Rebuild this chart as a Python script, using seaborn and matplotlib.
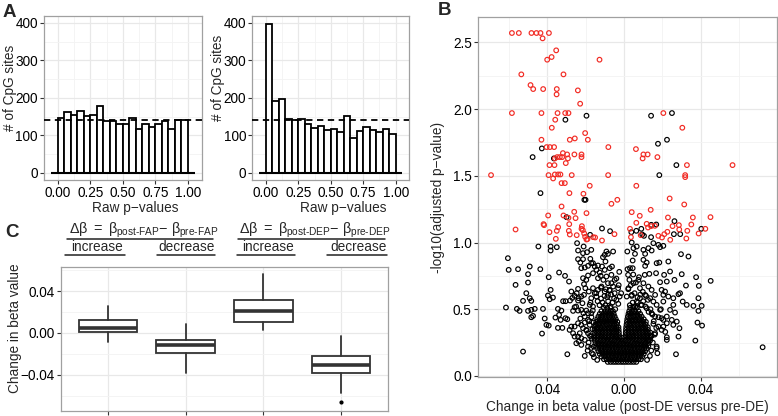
import matplotlib
matplotlib.use('Agg')
import matplotlib.pyplot as plt
import matplotlib.lines as mlines
from matplotlib.ticker import MultipleLocator
import seaborn as sns
import numpy as np
import pandas as pd

# ---------------------------------------------------------------------------
# Data
# ---------------------------------------------------------------------------

# A: histograms of raw p-values (20 bins of width 0.05)
bin_centers = [0.025, 0.075, 0.125, 0.175, 0.225, 0.275, 0.325, 0.375, 0.425, 0.475,
               0.525, 0.575, 0.625, 0.675, 0.725, 0.775, 0.825, 0.875, 0.925, 0.975]
counts_fap = [146, 162, 153, 164, 152, 153, 178, 138, 138, 131,
              131, 147, 118, 131, 121, 129, 138, 118, 141, 141]
counts_dep = [397, 192, 196, 144, 140, 144, 130, 120, 126, 114,
              117, 109, 151, 92, 112, 122, 114, 108, 117, 104]
expected_per_bin = 142

# C: box summaries of change in beta value
box_groups = ['FAP increase', 'FAP decrease', 'DEP increase', 'DEP decrease']
box_whislo = [-0.0086, -0.0378, 0.0032, -0.0576]
box_q1 = [0.0010, -0.0195, 0.0109, -0.0378]
box_med = [0.0051, -0.0112, 0.0208, -0.0310]
box_q3 = [0.0128, -0.0067, 0.0317, -0.0221]
box_whishi = [0.0259, 0.0083, 0.0563, -0.0032]
box_fliers = [[], [], [], [-0.0659]]

# B: volcano plot (change in beta, -log10 adjusted p)
sig_points = [
    (-0.0585, 2.57), (-0.0549, 2.57), (-0.0483, 2.57), (-0.0457, 2.57), (-0.0436, 2.57),
    (-0.0392, 2.57), (-0.0425, 2.53), (-0.0401, 2.37), (-0.0378, 2.39), (-0.0354, 2.44),
    (-0.0128, 2.37), (-0.0536, 2.26), (-0.0316, 2.26), (-0.0488, 2.18), (-0.0474, 2.15),
    (-0.0422, 2.15), (-0.0351, 2.15), (-0.0352, 2.11), (-0.0241, 2.14), (-0.0229, 2.04),
    (-0.0585, 1.97), (-0.0431, 1.97), (-0.0347, 1.97), (-0.0307, 1.97), (-0.0290, 1.97),
    (0.0205, 1.97), (-0.0359, 1.92), (-0.0377, 1.86), (0.0304, 1.86), (-0.0203, 1.82),
    (-0.0431, 1.77), (-0.0283, 1.77), (-0.0257, 1.78), (-0.0189, 1.77), (-0.0404, 1.715),
    (-0.0387, 1.715), (-0.0365, 1.715), (-0.0082, 1.715), (0.0062, 1.70), (-0.0319, 1.67),
    (-0.0297, 1.66), (-0.0259, 1.66), (-0.0222, 1.66), (-0.0222, 1.64), (0.0101, 1.66),
    (0.0123, 1.66), (0.0174, 1.64), (0.0097, 1.63), (-0.0361, 1.63), (-0.0349, 1.64),
    (-0.0335, 1.64), (-0.0323, 1.64), (-0.0293, 1.63), (-0.0304, 1.595), (-0.0389, 1.58),
    (-0.0363, 1.58), (0.0328, 1.58), (0.0566, 1.58), (-0.0694, 1.505), (-0.0394, 1.505),
    (-0.0361, 1.51), (-0.0344, 1.51), (-0.0332, 1.51), (-0.0273, 1.505), (-0.0083, 1.505),
    (0.0319, 1.505), (0.0319, 1.49), (-0.0370, 1.48), (-0.0326, 1.445), (-0.0309, 1.445),
    (-0.0179, 1.425), (0.0064, 1.425), (-0.0285, 1.37), (-0.0212, 1.365), (0.0238, 1.33),
    (-0.0035, 1.32), (-0.0066, 1.29), (0.0314, 1.285), (-0.0326, 1.27), (0.0139, 1.245),
    (-0.0566, 1.0975), (-0.0420, 1.1375), (-0.0417, 1.13), (-0.0396, 1.2025), (-0.0389, 1.0775),
    (-0.0344, 1.115), (-0.0351, 1.0875), (-0.0356, 1.0275), (-0.0316, 1.2025), (-0.0290, 1.185),
    (-0.0286, 1.1375), (-0.0288, 1.0875), (-0.0283, 1.06), (-0.0260, 1.23), (-0.0253, 1.1825),
    (-0.0247, 1.055), (-0.0222, 1.1025), (-0.0220, 1.1225), (-0.0215, 1.0925), (-0.0208, 1.0675),
    (-0.0203, 1.0425), (-0.0196, 1.0225), (-0.0191, 1.025), (-0.0161, 1.04), (-0.0151, 1.0375),
    (-0.0196, 1.22), (-0.0115, 1.015), (-0.0050, 1.0625), (0.0036, 1.04), (0.0040, 1.2275),
    (0.0064, 1.1475), (0.0031, 1.1025), (0.0082, 1.20), (0.0118, 1.14), (0.0141, 1.1225),
    (0.0125, 1.1125), (0.0161, 1.125), (0.0179, 1.05), (0.0198, 1.0375), (0.0210, 1.0625),
    (0.0229, 1.1875), (0.0226, 1.08), (0.0241, 1.02), (0.0253, 1.1225), (0.0286, 1.13),
    (0.0288, 1.0975), (0.0325, 1.03), (0.0330, 1.0875), (0.0351, 1.135), (0.0359, 1.1875),
    (0.0389, 1.0675), (0.0424, 1.1025), (0.0451, 1.19), (0.0087, 1.055),
]

ns_sparse_points = [
    # upper, non-significant
    (-0.0477, 1.64), (-0.0429, 1.705), (-0.0366, 1.63), (-0.0306, 1.92), (-0.0196, 1.95),
    (0.0141, 1.95), (0.0250, 1.97), (0.0177, 1.74), (0.0224, 1.77), (0.0273, 1.58),
    (0.0184, 1.505), (-0.0436, 1.37), (-0.0207, 1.32), (-0.0201, 1.32),
    (-0.0300, 1.19), (-0.0177, 1.0575), (-0.0115, 1.105), (-0.0073, 1.085), (0.0038, 1.0775),
    (0.0064, 1.0875), (0.0090, 1.1025), (0.0095, 1.06), (0.0142, 1.1325), (0.0168, 1.135),
    (0.0260, 1.0625), (0.0293, 1.0625), (0.0403, 1.1025), (0.0104, 1.05), (0.0141, 1.04),
    (0.0263, 1.16),
    # left side
    (-0.0447, 0.97), (-0.0383, 0.97), (-0.0383, 0.94), (-0.0351, 0.965), (-0.0245, 0.995),
    (-0.0211, 0.97), (-0.0240, 0.94), (-0.0214, 0.92), (-0.0193, 0.9275), (-0.0171, 0.945),
    (-0.0606, 0.8825), (-0.0602, 0.795), (-0.0553, 0.80), (-0.0492, 0.82), (-0.0501, 0.7625),
    (-0.0566, 0.6825), (-0.0501, 0.70), (-0.0437, 0.80), (-0.0393, 0.74), (-0.0339, 0.775),
    (-0.0308, 0.75), (-0.0287, 0.7075), (-0.0616, 0.5125), (-0.0559, 0.5025), (-0.0545, 0.4875),
    (-0.0527, 0.5625), (-0.0510, 0.62), (-0.0492, 0.5825), (-0.0484, 0.5625), (-0.0501, 0.4875),
    (-0.0484, 0.495), (-0.0466, 0.5025), (-0.0484, 0.44), (-0.0475, 0.45), (-0.0423, 0.5025),
    (-0.0428, 0.3175), (-0.0414, 0.43), (-0.0405, 0.3825), (-0.0393, 0.3775), (-0.0397, 0.6025),
    (-0.0383, 0.645), (-0.0388, 0.575), (-0.0371, 0.5875), (-0.0345, 0.5025), (-0.0339, 0.4575),
    (-0.0327, 0.49), (-0.0318, 0.56), (-0.0305, 0.56), (-0.0358, 0.4375), (-0.0331, 0.42),
    (-0.0306, 0.4325), (-0.0296, 0.425), (-0.0345, 0.36), (-0.0322, 0.36), (-0.0275, 0.6325),
    (-0.0282, 0.565), (-0.0270, 0.585), (-0.0258, 0.60), (-0.0247, 0.62), (-0.0240, 0.6525),
    (-0.0237, 0.5825), (-0.0223, 0.595), (-0.0209, 0.6075), (-0.0266, 0.4875), (-0.0258, 0.515),
    (-0.0240, 0.49), (-0.0223, 0.495), (-0.0240, 0.565), (-0.0217, 0.545), (-0.0209, 0.6875),
    (-0.0202, 0.6575), (-0.0184, 0.6325), (-0.0162, 0.6575), (-0.0197, 0.72), (-0.0214, 0.7325),
    (-0.0188, 0.7525), (-0.0162, 0.77), (-0.0144, 0.795), (-0.0127, 0.775), (-0.0136, 0.7325),
    (-0.0122, 0.75), (-0.0101, 0.795), (-0.0092, 0.745), (-0.0108, 0.72), (-0.0084, 0.695),
    (-0.0066, 0.695), (-0.0057, 0.67), (-0.0049, 0.72), (-0.0066, 0.7575), (-0.0075, 0.8075),
    (-0.0063, 0.82), (-0.0097, 0.8575), (-0.0110, 0.89), (-0.0101, 0.9075), (-0.0084, 0.915),
    (-0.0057, 0.9325), (-0.0092, 0.9325), (-0.0240, 0.875), (-0.0228, 0.85), (-0.0214, 0.875),
    (-0.0176, 0.8775), (-0.0171, 0.845), (-0.0188, 0.825), (-0.0205, 0.8125), (-0.0223, 0.8075),
    (-0.0162, 0.845), (-0.0153, 0.82), (-0.0136, 0.8275), (-0.0115, 0.82), (-0.0296, 0.1625),
    (-0.0205, 0.15), (-0.0162, 0.1625), (-0.0527, 0.1825), (-0.0284, 0.345), (-0.0275, 0.37),
    (-0.0266, 0.32), (-0.0258, 0.295), (-0.0240, 0.295), (-0.0231, 0.32), (-0.0223, 0.2825),
    (-0.0205, 0.27), (-0.0258, 0.37), (-0.0240, 0.395), (-0.0223, 0.3825), (-0.0214, 0.3575),
    (-0.0197, 0.345), (-0.0179, 0.3825), (-0.0188, 0.42), (-0.0171, 0.47), (-0.0205, 0.445),
    (-0.0188, 0.47), (-0.0162, 0.52), (-0.0179, 0.5325), (-0.0197, 0.49), (-0.0144, 0.595),
    (-0.0171, 0.5825), (-0.0153, 0.62), (-0.0136, 0.645), (-0.0118, 0.67), (-0.0101, 0.6325),
    (-0.0084, 0.6075), (-0.0075, 0.645), (-0.0049, 0.62), (-0.0031, 0.6575), (-0.0023, 0.595),
    (-0.0040, 0.57), (-0.0188, 0.32), (-0.0171, 0.295), (-0.0249, 0.245), (-0.0223, 0.2325),
    (-0.0188, 0.22),
    # right side
    (0.0040, 1.00), (0.0017, 0.9325), (0.0049, 0.9575), (0.0066, 0.97), (0.0057, 0.915),
    (0.0101, 0.945), (0.0110, 0.915), (0.0127, 0.9575), (0.0144, 0.94), (0.0153, 0.995),
    (0.0179, 0.9825), (0.0188, 0.965), (0.0205, 0.975), (0.0297, 0.9125), (0.0336, 0.895),
    (0.0101, 0.87), (0.0118, 0.85), (0.0045, 0.865), (0.0031, 0.8075), (0.0045, 0.8075),
    (0.0110, 0.825), (0.0170, 0.845), (0.0184, 0.85), (0.0231, 0.8575), (0.0240, 0.7825),
    (0.0263, 0.72), (0.0301, 0.7625), (0.0323, 0.6775), (0.0376, 0.74), (0.0390, 0.675),
    (0.0452, 0.7125), (0.0209, 0.7575), (0.0188, 0.7025), (0.0223, 0.7075), (0.0132, 0.765),
    (0.0108, 0.7575), (0.0075, 0.72), (0.0049, 0.695), (0.0023, 0.6575), (0.0167, 0.77),
    (0.0196, 0.645), (0.0214, 0.6325), (0.0205, 0.6075), (0.0231, 0.595), (0.0257, 0.5825),
    (0.0284, 0.6125), (0.0292, 0.62), (0.0306, 0.5575), (0.0327, 0.5325), (0.0388, 0.5825),
    (0.0362, 0.525), (0.0405, 0.525), (0.0388, 0.4875), (0.0257, 0.5325), (0.0240, 0.495),
    (0.0266, 0.475), (0.0223, 0.445), (0.0249, 0.42), (0.0275, 0.4075), (0.0289, 0.3575),
    (0.0284, 0.295), (0.0223, 0.29), (0.0223, 0.27), (0.0383, 0.40), (0.0407, 0.3775),
    (0.0372, 0.265), (0.0271, 0.1625), (0.0170, 0.2075), (0.0174, 0.17), (0.0723, 0.215),
    (0.0153, 0.39), (0.0179, 0.37), (0.0196, 0.345), (0.0162, 0.32), (0.0144, 0.30),
    (0.0127, 0.27), (0.0188, 0.495), (0.0170, 0.5325), (0.0153, 0.5575), (0.0136, 0.5825),
    (0.0205, 0.5575), (0.0162, 0.6075), (0.0144, 0.645), (0.0127, 0.67), (0.0101, 0.695),
    (0.0083, 0.6575), (0.0110, 0.6075), (0.0083, 0.5825), (0.0066, 0.5575), (0.0092, 0.5325),
    (0.0118, 0.5075), (0.0144, 0.47), (0.0162, 0.445), (0.0196, 0.4325), (0.0223, 0.395),
    (0.0257, 0.3825), (0.0205, 0.37), (0.0021, 0.7575), (0.0028, 0.72), (0.0014, 0.595),
    (0.0040, 0.6075), (0.0049, 0.52), (0.0031, 0.47),
    # fringe around the dense core
    (-0.0185, 0.25), (-0.0172, 0.21), (-0.0190, 0.19), (-0.0168, 0.17), (-0.0178, 0.30),
    (-0.0165, 0.35), (-0.0182, 0.41), (-0.0170, 0.44), (-0.0163, 0.49), (-0.0175, 0.55),
    (-0.0160, 0.40), (-0.0168, 0.28), (-0.0158, 0.22), (-0.0196, 0.34), (-0.0205, 0.40),
    (-0.0212, 0.47), (-0.0228, 0.43), (-0.0236, 0.26), (-0.0250, 0.52), (-0.0157, 0.14),
    (-0.0140, 0.12), (-0.0128, 0.53), (-0.0112, 0.55), (-0.0098, 0.53), (-0.0083, 0.56),
    (-0.0070, 0.52), (-0.0060, 0.55), (-0.0046, 0.50), (-0.0120, 0.58), (-0.0102, 0.60),
    (-0.0088, 0.59), (-0.0068, 0.61), (-0.0052, 0.58), (-0.0138, 0.56), (-0.0145, 0.62),
    (-0.0120, 0.66), (-0.0095, 0.65), (-0.0075, 0.64), (-0.0030, 0.54), (0.0030, 0.53),
    (0.0045, 0.55), (0.0058, 0.52), (0.0072, 0.55), (0.0088, 0.53), (0.0100, 0.56),
    (0.0112, 0.52), (0.0040, 0.60), (0.0055, 0.62), (0.0070, 0.59), (0.0085, 0.61),
    (0.0098, 0.63), (0.0115, 0.60), (0.0125, 0.57), (0.0022, 0.65), (0.0035, 0.68),
    (0.0062, 0.70), (0.0078, 0.74), (0.0048, 0.76), (0.0018, 0.80), (-0.0028, 0.68),
    (-0.0040, 0.73), (-0.0015, 0.62), (-0.0025, 0.78), (0.0150, 0.25), (0.0142, 0.19),
    (0.0160, 0.31), (0.0155, 0.41), (0.0148, 0.46), (0.0170, 0.22), (0.0135, 0.15),
    (0.0120, 0.12), (0.0168, 0.36), (0.0180, 0.44), (0.0192, 0.50), (0.0205, 0.42),
    (0.0215, 0.33), (0.0138, 0.50), (0.0128, 0.48),
]

# dense core of the volcano: -log10 p level -> change in beta values
ns_core_rows = {
    0.105: [-0.0085, -0.0070, -0.0056, -0.0043, -0.0030, -0.0016, -0.0004, 0.0009, 0.0022,
            0.0036, 0.0050, 0.0064],
    0.125: [-0.0105, -0.0091, -0.0077, -0.0062, -0.0049, -0.0036, -0.0022, -0.0008, 0.0006,
            0.0019, 0.0033, 0.0047, 0.0061, 0.0075, 0.0088],
    0.145: [-0.0118, -0.0103, -0.0088, -0.0074, -0.0060, -0.0045, -0.0031, -0.0017, -0.0003,
            0.0011, 0.0025, 0.0040, 0.0054, 0.0068, 0.0082, 0.0095],
    0.165: [-0.0127, -0.0112, -0.0097, -0.0083, -0.0068, -0.0054, -0.0040, -0.0026, -0.0012,
            0.0003, 0.0017, 0.0031, 0.0046, 0.0060, 0.0074, 0.0089, 0.0103],
    0.185: [-0.0134, -0.0119, -0.0104, -0.0090, -0.0075, -0.0061, -0.0047, -0.0033, -0.0019,
            -0.0005, 0.0010, 0.0024, 0.0038, 0.0053, 0.0067, 0.0082, 0.0096, 0.0110],
    0.205: [-0.0140, -0.0125, -0.0111, -0.0096, -0.0082, -0.0067, -0.0053, -0.0039, -0.0025,
            -0.0010, 0.0005, 0.0019, 0.0033, 0.0048, 0.0062, 0.0077, 0.0091, 0.0105, 0.0118],
    0.225: [-0.0145, -0.0130, -0.0116, -0.0101, -0.0087, -0.0072, -0.0058, -0.0044, -0.0030,
            -0.0015, 0.0000, 0.0014, 0.0029, 0.0043, 0.0058, 0.0072, 0.0087, 0.0101, 0.0115,
            0.0127],
    0.245: [-0.0149, -0.0134, -0.0119, -0.0105, -0.0090, -0.0076, -0.0061, -0.0047, -0.0033,
            -0.0018, -0.0004, 0.0011, 0.0025, 0.0040, 0.0055, 0.0069, 0.0084, 0.0098, 0.0112,
            0.0126],
    0.265: [-0.0152, -0.0137, -0.0122, -0.0108, -0.0093, -0.0079, -0.0064, -0.0050, -0.0036,
            -0.0021, -0.0007, 0.0008, 0.0022, 0.0037, 0.0052, 0.0066, 0.0081, 0.0095, 0.0110,
            0.0124, 0.0136],
    0.285: [-0.0154, -0.0139, -0.0124, -0.0110, -0.0095, -0.0081, -0.0066, -0.0052, -0.0038,
            -0.0024, -0.0011, 0.0006, 0.0020, 0.0035, 0.0049, 0.0064, 0.0079, 0.0093, 0.0108,
            0.0122, 0.0136],
    0.305: [-0.0155, -0.0140, -0.0125, -0.0111, -0.0096, -0.0082, -0.0067, -0.0053, -0.0039,
            -0.0026, 0.0008, 0.0022, 0.0037, 0.0051, 0.0066, 0.0080, 0.0095, 0.0109, 0.0124,
            0.0138],
    0.325: [-0.0155, -0.0141, -0.0126, -0.0112, -0.0097, -0.0083, -0.0068, -0.0054, -0.0040,
            -0.0027, 0.0009, 0.0023, 0.0038, 0.0052, 0.0067, 0.0081, 0.0096, 0.0110, 0.0124,
            0.0137],
    0.345: [-0.0154, -0.0140, -0.0125, -0.0111, -0.0096, -0.0082, -0.0067, -0.0053, -0.0040,
            -0.0028, 0.0010, 0.0024, 0.0039, 0.0053, 0.0068, 0.0082, 0.0097, 0.0111, 0.0125],
    0.365: [-0.0152, -0.0138, -0.0123, -0.0109, -0.0094, -0.0080, -0.0066, -0.0052, -0.0039,
            -0.0029, 0.0011, 0.0025, 0.0040, 0.0054, 0.0069, 0.0083, 0.0098, 0.0112, 0.0124],
    0.385: [-0.0149, -0.0134, -0.0120, -0.0106, -0.0091, -0.0077, -0.0063, -0.0050, -0.0037,
            0.0013, 0.0027, 0.0041, 0.0056, 0.0070, 0.0085, 0.0099, 0.0113],
    0.405: [-0.0145, -0.0130, -0.0116, -0.0102, -0.0088, -0.0074, -0.0060, -0.0047, -0.0035,
            0.0015, 0.0029, 0.0043, 0.0058, 0.0072, 0.0087, 0.0101, 0.0114],
    0.425: [-0.0140, -0.0125, -0.0111, -0.0097, -0.0083, -0.0069, -0.0056, -0.0043, 0.0017,
            0.0031, 0.0046, 0.0060, 0.0075, 0.0089, 0.0103],
    0.445: [-0.0134, -0.0119, -0.0104, -0.0090, -0.0076, -0.0062, -0.0049, 0.0020, 0.0034,
            0.0049, 0.0063, 0.0078, 0.0092],
    0.465: [-0.0127, -0.0110, -0.0096, -0.0081, -0.0067, -0.0054, 0.0023, 0.0038, 0.0053,
            0.0068, 0.0084],
    0.485: [-0.0118, -0.0100, -0.0085, -0.0070, -0.0058, 0.0027, 0.0042, 0.0058, 0.0075],
    0.510: [-0.0105, -0.0088, -0.0072, 0.0032, 0.0048, 0.0066],
}

# ---------------------------------------------------------------------------
# Style
# ---------------------------------------------------------------------------
sns.set_theme(style='white')
plt.rcParams['font.family'] = ['Liberation Sans', 'DejaVu Sans']
plt.rcParams['mathtext.fontset'] = 'custom'
plt.rcParams['mathtext.rm'] = 'Liberation Sans'
plt.rcParams['mathtext.it'] = 'Liberation Sans'
plt.rcParams['mathtext.bf'] = 'Liberation Sans:bold'

FS = 9.8
INK = '#222222'


def gg_style(ax):
    ax.set_facecolor('white')
    for s in ax.spines.values():
        s.set_color('#a0a0a0')
        s.set_linewidth(0.9)
    ax.grid(which='major', color='#e8e8e8', lw=0.9)
    ax.grid(which='minor', color='#f3f3f3', lw=0.6)
    ax.set_axisbelow(True)
    ax.tick_params(which='major', length=3, width=0.8, color='#333333',
                   labelsize=FS, labelcolor='black', pad=1.5, left=True, bottom=True)
    ax.tick_params(which='minor', length=0, left=False, bottom=False)


W, H = 778, 416
fig = plt.figure(figsize=(W / 100, H / 100), dpi=100)


def px_axes(left, top, right, bottom):
    return fig.add_axes([left / W, 1 - bottom / H, (right - left) / W, (bottom - top) / H])


# ---------------------------------------------------------------------------
# A: histograms
# ---------------------------------------------------------------------------
hist_axes = [px_axes(44, 16, 201.7, 180), px_axes(252.3, 16, 409.3, 180)]
label_y = [0.56, 0.62]
for ax, counts, ly in zip(hist_axes, [counts_fap, counts_dep], label_y):
    sns.histplot(x=bin_centers, weights=counts, binwidth=0.05, binrange=(0, 1),
                 color='white', edgecolor='black', linewidth=1.3, alpha=1, ax=ax)
    ax.hlines(0, -0.05, 1.05, color='black', lw=1.5, zorder=3)
    ax.axhline(expected_per_bin, color='black', lw=1.3, ls=(0, (3.5, 2.5)), zorder=4)
    gg_style(ax)
    ax.set_xlim(-0.105, 1.105)
    ax.set_ylim(-19, 418)
    ax.set_xticks([0, 0.25, 0.5, 0.75, 1.0], ['0.00', '0.25', '0.50', '0.75', '1.00'])
    ax.set_yticks([0, 100, 200, 300, 400], ['0', '100', '200', '300', '400'])
    ax.xaxis.set_minor_locator(MultipleLocator(0.125))
    ax.yaxis.set_minor_locator(MultipleLocator(50))
    ax.set_xlabel('Raw p\u2212values', fontsize=FS, labelpad=0)
    ax.set_ylabel('# of CpG sites', fontsize=FS)
    ax.xaxis.set_label_coords(0.58, -0.128)
    ax.yaxis.set_label_coords(-0.172, ly)

# ---------------------------------------------------------------------------
# B: volcano plot
# ---------------------------------------------------------------------------
ns_x = [p[0] for p in ns_sparse_points]
ns_y = [p[1] for p in ns_sparse_points]
for level, xs in ns_core_rows.items():
    ns_x += xs
    ns_y += [level] * len(xs)
volcano = pd.concat([
    pd.DataFrame({'dbeta': ns_x, 'logp': ns_y, 'sig': 'no'}),
    pd.DataFrame({'dbeta': [p[0] for p in sig_points],
                  'logp': [p[1] for p in sig_points], 'sig': 'yes'}),
], ignore_index=True)

axb = px_axes(478, 17, 777, 377)
for flag, col in [('no', 'black'), ('yes', '#f22b24')]:
    sub = volcano[volcano['sig'] == flag]
    sns.scatterplot(data=sub, x='dbeta', y='logp', marker='o', s=11,
                    facecolor='none', edgecolor=col, linewidth=0.85, ax=axb, zorder=3)
gg_style(axb)
axb.set_xlim(-0.0762, 0.0798)
axb.set_ylim(-0.008, 2.69)
axb.set_xticks([-0.04, 0.0, 0.04], ['0.04', '0.00', '0.04'])
axb.set_yticks([0, 0.5, 1.0, 1.5, 2.0, 2.5], ['0.0', '0.5', '1.0', '1.5', '2.0', '2.5'])
axb.xaxis.set_minor_locator(MultipleLocator(0.02))
axb.yaxis.set_minor_locator(MultipleLocator(0.25))
axb.set_xlabel('Change in beta value (post-DE versus pre-DE)', fontsize=FS, labelpad=2)
axb.set_ylabel('-log10(adjusted p\u2212value)', fontsize=FS)
axb.yaxis.set_label_coords(-0.112, 0.5)

# ---------------------------------------------------------------------------
# C: boxplots
# ---------------------------------------------------------------------------
axc = px_axes(61, 266.7, 388, 410.7)
stats = []
for i, g in enumerate(box_groups):
    stats.append(dict(label=g, whislo=box_whislo[i], q1=box_q1[i], med=box_med[i],
                      q3=box_q3[i], whishi=box_whishi[i], fliers=box_fliers[i]))
axc.bxp(stats, positions=[1, 2, 3, 4], widths=0.75, showcaps=False, patch_artist=True,
        boxprops=dict(facecolor='white', edgecolor='#333333', linewidth=1.3),
        whiskerprops=dict(color='#333333', linewidth=1.3),
        medianprops=dict(color='#333333', linewidth=2.6, solid_capstyle='butt'),
        flierprops=dict(marker='o', markersize=2, markerfacecolor='black',
                        markeredgecolor='black'))
gg_style(axc)
axc.set_xlim(0.4, 4.6)
axc.set_ylim(-0.0742, 0.0633)
axc.set_xticks([1, 2, 3, 4], ['', '', '', ''])
axc.set_yticks([-0.04, 0.0, 0.04], ['\u22120.04', '0.00', '0.04'])
axc.yaxis.set_minor_locator(MultipleLocator(0.02))
axc.set_ylabel('Change in beta value', fontsize=FS)
axc.yaxis.set_label_coords(-0.119, 0.57)

# header over panel C
def fx(p):
    return p / W


def fy(p):
    return 1 - p / H


hy = '\u2010'
headers = [
    (143.5, r'$\Delta\beta\ =\ \beta_{\mathrm{post' + hy + r'FAP}}{-}\ \beta_{\mathrm{pre' + hy + r'FAP}}$',
     (66.7, 213)),
    (315, r'$\Delta\beta\ =\ \beta_{\mathrm{post' + hy + r'DEP}}{-}\ \beta_{\mathrm{pre' + hy + r'DEP}}$',
     (238, 385)),
]
for cx, txt, (x0, x1) in headers:
    fig.text(fx(cx), fy(233.5), txt, ha='center', va='baseline', fontsize=FS + 0.6)
    fig.add_artist(mlines.Line2D([fx(x0), fx(x1)], [fy(239), fy(239)], color=INK, lw=1.1))

subheads = [(96.7, 'increase', (65, 125)), (186.7, 'decrease', (156.7, 215)),
            (268.3, 'increase', (236.7, 295)), (358.3, 'decrease', (326.7, 386.7))]
for cx, txt, (x0, x1) in subheads:
    fig.text(fx(cx), fy(251), txt, ha='center', va='baseline', fontsize=FS)
    fig.add_artist(mlines.Line2D([fx(x0), fx(x1)], [fy(254.6), fy(254.6)], color=INK, lw=1.1))

# panel letters
for px, py, letter in [(3, 17, 'A'), (438, 15, 'B'), (5, 236.7, 'C')]:
    fig.text(fx(px), fy(py), letter, fontsize=13.5, fontweight='bold', va='baseline')

fig.savefig('out.png', dpi=100, facecolor='white')
